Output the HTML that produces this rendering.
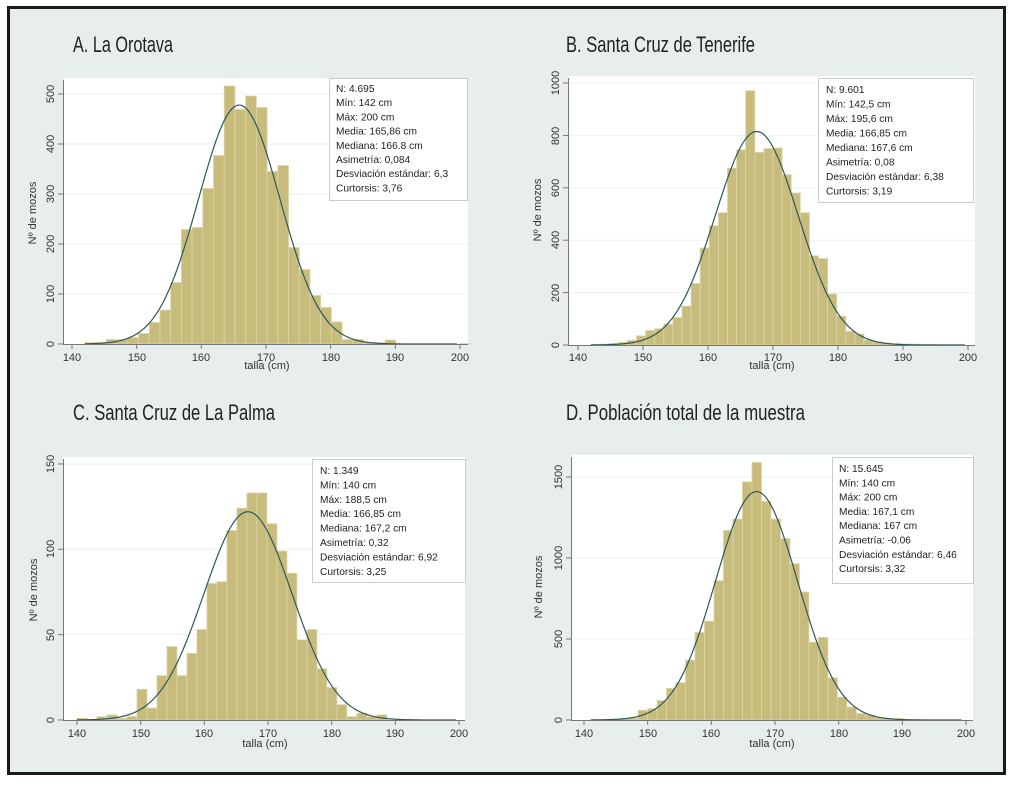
<!DOCTYPE html>
<html><head><meta charset="utf-8"><style>
html,body{margin:0;padding:0;background:#fff;}
svg{display:block;}
.t{font-family:"Liberation Sans Narrow","Liberation Sans",sans-serif;font-size:22px;fill:#222;}
.tk{font-family:"Liberation Sans",sans-serif;font-size:11px;fill:#333;}
.bx{font-family:"Liberation Sans",sans-serif;font-size:10.2px;fill:#222;}
</style></head><body>
<svg id="s" width="1018" height="788" viewBox="0 0 1018 788" xmlns="http://www.w3.org/2000/svg">
<rect x="0" y="0" width="1018" height="788" fill="#fff"/>
<rect x="8.5" y="7.5" width="996" height="766" fill="#e8eeee" stroke="#1a1a1a" stroke-width="3"/>
<g id="plots"></g>
<!-- Titles -->
<text class="t" x="73" y="52" textLength="100" lengthAdjust="spacingAndGlyphs">A. La Orotava</text>
<text class="t" x="566" y="52" textLength="189" lengthAdjust="spacingAndGlyphs">B. Santa Cruz de Tenerife</text>
<text class="t" x="73" y="420" textLength="202" lengthAdjust="spacingAndGlyphs">C. Santa Cruz de La Palma</text>
<text class="t" x="566" y="420" textLength="239" lengthAdjust="spacingAndGlyphs">D. Población total de la muestra</text>
<!-- Axis labels -->
<text class="tk" x="267" y="369" text-anchor="middle">talla (cm)</text>
<text class="tk" x="772" y="369" text-anchor="middle">talla (cm)</text>
<text class="tk" x="265" y="747" text-anchor="middle">talla (cm)</text>
<text class="tk" x="772" y="747" text-anchor="middle">talla (cm)</text>
<text class="tk" transform="translate(36,213) rotate(-90)" text-anchor="middle">Nº de mozos</text>
<text class="tk" transform="translate(541,210) rotate(-90)" text-anchor="middle">Nº de mozos</text>
<text class="tk" transform="translate(37,590) rotate(-90)" text-anchor="middle">Nº de mozos</text>
<text class="tk" transform="translate(542,587) rotate(-90)" text-anchor="middle">Nº de mozos</text>
<!-- X tick labels -->
<g class="tk" text-anchor="middle">
<text x="72" y="361">140</text><text x="137" y="361">150</text><text x="201" y="361">160</text><text x="266" y="361">170</text><text x="331" y="361">180</text><text x="395" y="361">190</text><text x="460" y="361">200</text>
<text x="578" y="361">140</text><text x="643" y="361">150</text><text x="708" y="361">160</text><text x="773" y="361">170</text><text x="838" y="361">180</text><text x="903" y="361">190</text><text x="968" y="361">200</text>
<text x="77" y="737">140</text><text x="141" y="737">150</text><text x="204" y="737">160</text><text x="268" y="737">170</text><text x="332" y="737">180</text><text x="395" y="737">190</text><text x="459" y="737">200</text>
<text x="584" y="737">140</text><text x="648" y="737">150</text><text x="711" y="737">160</text><text x="775" y="737">170</text><text x="839" y="737">180</text><text x="902" y="737">190</text><text x="966" y="737">200</text>
</g>
<!-- Y tick labels -->
<g class="tk" text-anchor="middle">
<text transform="translate(54,344) rotate(-90)">0</text><text transform="translate(54,294) rotate(-90)">100</text><text transform="translate(54,244) rotate(-90)">200</text><text transform="translate(54,194) rotate(-90)">300</text><text transform="translate(54,144) rotate(-90)">400</text><text transform="translate(54,94) rotate(-90)">500</text>
<text transform="translate(559,345) rotate(-90)">0</text><text transform="translate(559,293) rotate(-90)">200</text><text transform="translate(559,240) rotate(-90)">400</text><text transform="translate(559,188) rotate(-90)">600</text><text transform="translate(559,136) rotate(-90)">800</text><text transform="translate(559,83) rotate(-90)">1000</text>
<text transform="translate(54,720) rotate(-90)">0</text><text transform="translate(54,635) rotate(-90)">50</text><text transform="translate(54,549) rotate(-90)">100</text><text transform="translate(54,464) rotate(-90)">150</text>
<text transform="translate(562,720) rotate(-90)">0</text><text transform="translate(562,639) rotate(-90)">500</text><text transform="translate(562,558) rotate(-90)">1000</text><text transform="translate(562,477) rotate(-90)">1500</text>
</g>
<!-- Stats boxes -->
<rect x="329.5" y="78.5" width="138" height="122" fill="#fff" stroke="#c8cccc"/>
<g class="bx"><text x="336" y="92">N: 4.695</text><text x="336" y="106.2">Mín: 142 cm</text><text x="336" y="120.4">Máx: 200 cm</text><text x="336" y="134.6">Media: 165,86 cm</text><text x="336" y="148.8">Mediana: 166.8 cm</text><text x="336" y="163">Asimetría: 0,084</text><text x="336" y="177.2">Desviación estándar: 6,3</text><text x="336" y="191.4">Curtorsis: 3,76</text></g>
<rect x="818.5" y="78.5" width="155" height="124" fill="#fff" stroke="#c8cccc"/>
<g class="bx"><text x="826" y="93">N: 9.601</text><text x="826" y="107.5">Mín: 142,5 cm</text><text x="826" y="122">Máx: 195,6 cm</text><text x="826" y="136.5">Media: 166,85 cm</text><text x="826" y="151">Mediana: 167,6 cm</text><text x="826" y="165.5">Asimetría: 0,08</text><text x="826" y="180">Desviación estándar: 6,38</text><text x="826" y="194.5">Curtorsis: 3,19</text></g>
<rect x="312.5" y="459.5" width="153" height="123" fill="#fff" stroke="#c8cccc"/>
<g class="bx"><text x="320" y="474">N: 1.349</text><text x="320" y="488.4">Mín: 140 cm</text><text x="320" y="502.8">Máx: 188,5 cm</text><text x="320" y="517.2">Media: 166,85 cm</text><text x="320" y="531.6">Mediana: 167,2 cm</text><text x="320" y="546">Asimetría: 0,32</text><text x="320" y="560.4">Desviación estándar: 6,92</text><text x="320" y="574.8">Curtorsis: 3,25</text></g>
<rect x="832.5" y="457.5" width="141" height="126" fill="#fff" stroke="#c8cccc"/>
<g class="bx"><text x="839" y="472">N: 15.645</text><text x="839" y="486.3">Mín: 140 cm</text><text x="839" y="500.6">Máx: 200 cm</text><text x="839" y="514.9">Media: 167,1 cm</text><text x="839" y="529.2">Mediana: 167 cm</text><text x="839" y="543.5">Asimetría: -0.06</text><text x="839" y="557.8">Desviación estándar: 6,46</text><text x="839" y="572.1">Curtorsis: 3,32</text></g>
</svg>
<script>
(function(){
var NS="http://www.w3.org/2000/svg";
var g=document.getElementById("plots");
function el(n,a){var e=document.createElementNS(NS,n);for(var k in a)e.setAttribute(k,a[k]);g.appendChild(e);return e;}
var P=[
{l:63,r:468,t:78,X0:72,X1:460,Y0:344,ys:0.5,ticks:[0,100,200,300,400,500],start:142,w:1.657,
 h:[3,3,9,9,13,21,43,68,123,229,233,311,377,516,469,496,473,345,357,193,149,97,73,44,9,9,3,2,8,0,0,0,0,0,0,1],
 mu:165.86,sd:6.3,pk:478},
{l:568,r:975,t:76,X0:578,X1:968,Y0:345,ys:0.262,ticks:[0,200,400,600,800,1000],start:142.0,w:1.4,
 h:[2,3,6,10,18,35,55,62,80,105,148,235,370,455,505,675,745,970,735,750,752,650,580,505,340,330,195,110,52,42,20,12,8,5,4,3,2,2,1],
 mu:167.5,sd:6.38,pk:815},
{l:63,r:465,t:457,X0:77,X1:459,Y0:720,ys:1.707,ticks:[0,50,100,150],start:140,w:1.57,
 h:[1,0,2,3,1,2,18,7,26,43,26,39,53,80,81,111,124,133,133,115,99,86,47,53,30,19,9,2,4,2,3],
 mu:166.85,sd:6.92,pk:122},
{l:571,r:973,t:455,X0:584,X1:966,Y0:720,ys:0.162,ticks:[0,500,1000,1500],start:141.05,w:1.49,
 h:[2,3,5,8,12,60,70,120,195,230,370,540,610,860,1170,1240,1470,1590,1350,1240,1120,965,790,480,510,260,140,80,40,30,15,10,8,3,2,1],
 mu:167.1,sd:6.46,pk:1410}
];
P.forEach(function(p){
 var b=p.Y0+1;
 el("rect",{x:p.l,y:p.t,width:p.r-p.l,height:b-p.t,fill:"#fff"});
 var sx=(p.X1-p.X0)/60;
 function X(v){return p.X0+(v-140)*sx;}
 p.ticks.forEach(function(t){ if(t>0){var y=p.Y0-t*p.ys; el("line",{x1:p.l,x2:p.r,y1:y,y2:y,stroke:"#eef1f4","stroke-width":1});}});
 p.h.forEach(function(v,i){ if(v<=0)return; var x=X(p.start+i*p.w); var hh=v*p.ys;
  el("rect",{x:x,y:p.Y0-hh,width:p.w*sx,height:hh,fill:"#c8bc7d",stroke:"#ddd4a8","stroke-width":0.8});});
 var d="";for(var v=p.start;v<=199.5;v+=0.25){var y=p.Y0-p.pk*Math.exp(-0.5*Math.pow((v-p.mu)/p.sd,2))*p.ys;d+=(d?"L":"M")+X(v).toFixed(2)+","+y.toFixed(2);}
 el("path",{d:d,fill:"none",stroke:"#2e5858","stroke-width":1.2});
 el("line",{x1:p.l,x2:p.r,y1:p.Y0+0.5,y2:p.Y0+0.5,stroke:"#777","stroke-width":1});
 el("line",{x1:p.l+0.5,x2:p.l+0.5,y1:p.t+2,y2:p.Y0+1,stroke:"#777","stroke-width":1});
 for(var k=0;k<=6;k++){var x=X(140+10*k);el("line",{x1:x,x2:x,y1:p.Y0,y2:p.Y0+5,stroke:"#777"});}
 p.ticks.forEach(function(t){var y=p.Y0-t*p.ys;el("line",{x1:p.l-5,x2:p.l,y1:y,y2:y,stroke:"#777"});});
});
})();
</script>
</body></html>
